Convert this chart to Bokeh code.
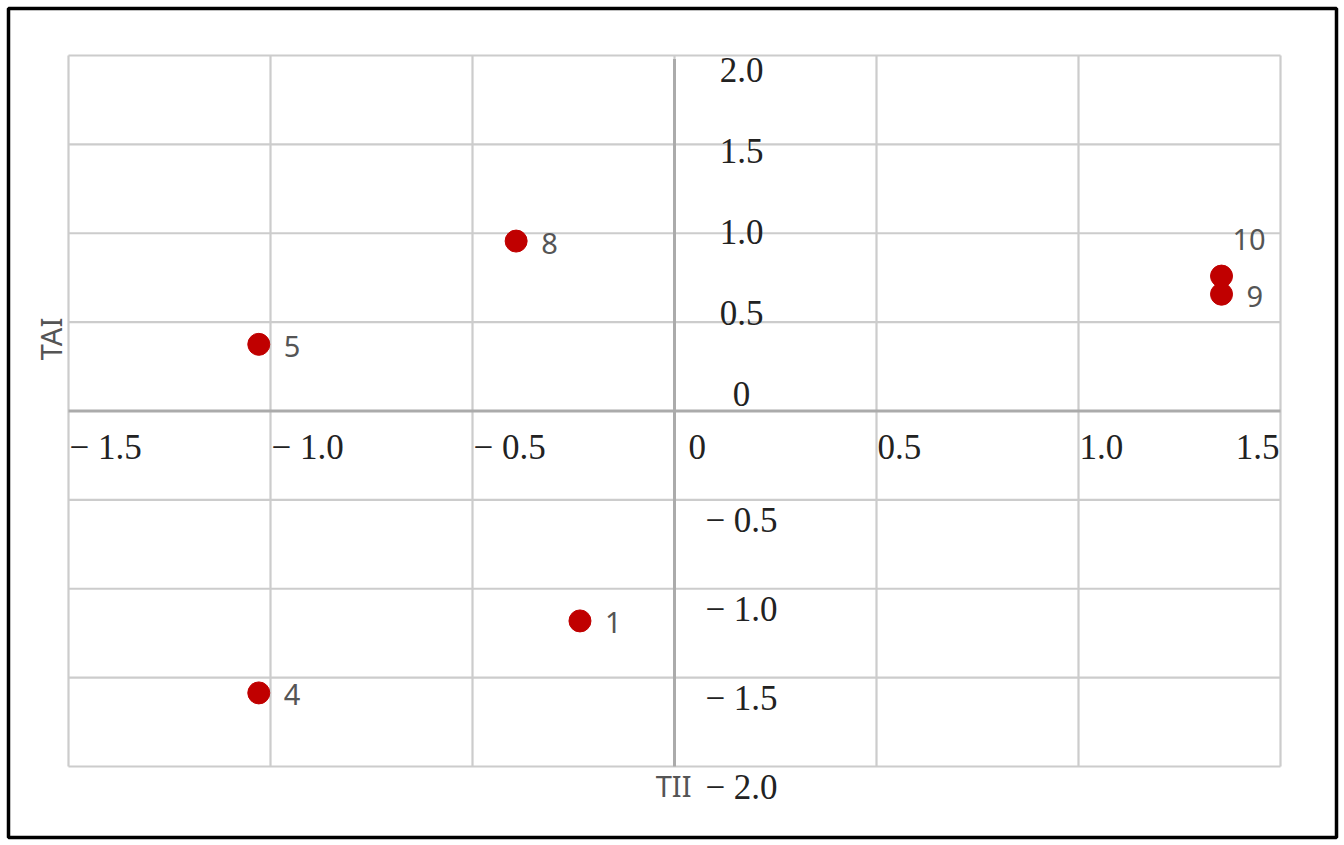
from bokeh.plotting import figure
from bokeh.models import Range1d, ColumnDataSource
from bokeh.core.properties import value
from bokeh.embed import file_html
from bokeh.resources import INLINE

# ---- data ----
point_ids = ["1", "4", "5", "8", "9", "10"]
tii_values = [-0.234, -1.029, -1.029, -0.392, 1.354, 1.354]
tai_values = [-1.181, -1.586, 0.375, 0.956, 0.657, 0.759]

x_ticks = [-1.5, -1.0, -0.5, 0.0, 0.5, 1.0, 1.5]
y_ticks = [2.0, 1.5, 1.0, 0.5, 0.0, -0.5, -1.0, -1.5, -2.0]
x_title = "TII"
y_title = "TAI"


def fmt(v):
    if v == 0:
        return "0"
    s = f"{abs(v):.1f}"
    return ("\u2212 " + s) if v < 0 else s


# ---- layout ----
W, H = 1344, 845
inset = 8
x_min, x_max = min(x_ticks), max(x_ticks)
y_min, y_max = min(y_ticks), max(y_ticks)
px_x = 404.0
px_y = 177.75
pad_l, pad_r, pad_t, pad_b = 60, 56, 47, 71

p = figure(
    width=W, height=H,
    x_range=Range1d(x_min - pad_l / px_x, x_max + pad_r / px_x),
    y_range=Range1d(y_min - pad_b / px_y, y_max + pad_t / px_y),
    output_backend="svg", toolbar_location=None,
    min_border=inset, min_border_left=inset, min_border_right=inset,
    min_border_top=inset, min_border_bottom=inset,
)
p.xaxis.visible = False
p.yaxis.visible = False
p.grid.visible = False
p.outline_line_color = "black"
p.outline_line_width = 3.5
p.background_fill_color = "white"
p.border_fill_color = "white"

grid_col = "#cccccc"
axis_col = "#ababab"

# grid
p.segment(x0=x_ticks, y0=[y_min] * len(x_ticks), x1=x_ticks, y1=[y_max] * len(x_ticks),
          line_color=grid_col, line_width=2.2)
p.segment(x0=[x_min] * len(y_ticks), y0=y_ticks, x1=[x_max] * len(y_ticks), y1=y_ticks,
          line_color=grid_col, line_width=2.2)
# axis lines through origin
p.segment(x0=[x_min], y0=[0], x1=[x_max], y1=[0], line_color=axis_col, line_width=3)
p.segment(x0=[0], y0=[y_min], x1=[0], y1=[y_max - 0.02], line_color=axis_col, line_width=3)

serif = value("Liberation Serif")
sans = value("Noto Sans")
tick_size = "35px"

# x tick labels
xt_left = [t for t in x_ticks if t != x_max]
p.text(x=xt_left, y=[0] * len(xt_left), text=[fmt(t) for t in xt_left],
       x_offset=[14 if t == 0 else 1 for t in xt_left], y_offset=36,
       text_align="left", text_baseline="middle",
       text_font=serif, text_font_size=tick_size, text_color="#222222")
p.text(x=[x_max], y=[0], text=[fmt(x_max)], x_offset=-1, y_offset=36,
       text_align="right", text_baseline="middle",
       text_font=serif, text_font_size=tick_size, text_color="#222222")

# y tick labels (right of vertical axis)
y_off = [(-17 + 15.5 * t) if t >= 0 else 21 for t in y_ticks]
p.text(x=[0] * len(y_ticks), y=y_ticks, text=[fmt(t) for t in y_ticks],
       x_offset=67, y_offset=y_off,
       text_align="center", text_baseline="middle",
       text_font=serif, text_font_size=tick_size, text_color="#222222")

# points
src = ColumnDataSource(dict(x=tii_values, y=tai_values, label=point_ids))
p.scatter("x", "y", source=src, size=22, fill_color="#c00000", line_color="#c00000")

# point labels: default to the right, placed above when crowded by a neighbour
lx_off, ly_off = [], []
for i, (xv, yv) in enumerate(zip(tii_values, tai_values)):
    crowded = any(j != i and abs(xv - tii_values[j]) < 0.05 and 0 < yv - tai_values[j] < 0.2
                  for j in range(len(tii_values)))
    if crowded:
        lx_off.append(11); ly_off.append(-37)
    else:
        lx_off.append(25); ly_off.append(2)
p.text(x=tii_values, y=tai_values, text=point_ids, x_offset=lx_off, y_offset=ly_off,
       text_align="left", text_baseline="middle",
       text_font=sans, text_font_size="29px", text_color="#555555")

# axis titles
p.text(x=[0], y=[y_min], text=[x_title], x_offset=17, y_offset=19,
       text_align="right", text_baseline="middle",
       text_font=sans, text_font_size="29px", text_color="#555555")
p.text(x=[x_min], y=[0], text=[y_title], x_offset=-18, y_offset=-72, angle=1.5708,
       text_align="center", text_baseline="middle",
       text_font=sans, text_font_size="29px", text_color="#555555")

open("out.html", "w").write(file_html(p, INLINE))
